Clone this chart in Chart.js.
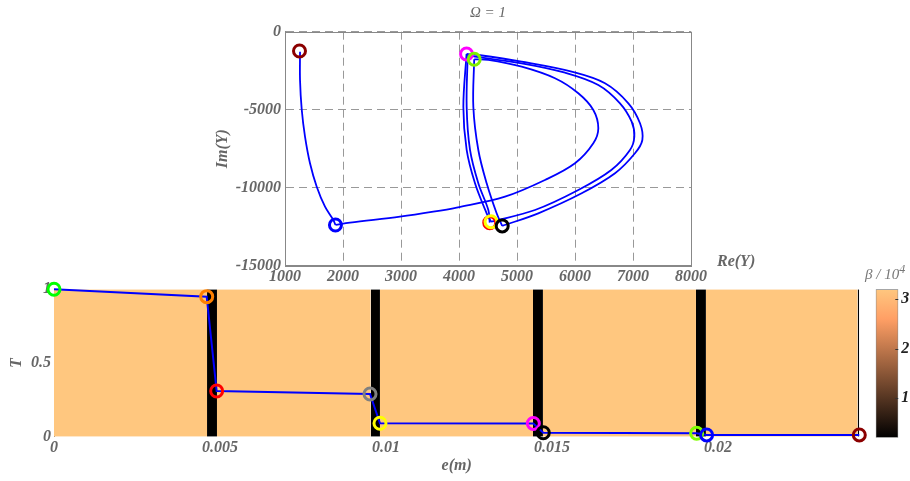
<!DOCTYPE html>
<html>
<head>
<meta charset="utf-8">
<script src="https://cdn.jsdelivr.net/npm/chart.js@4.4.1/dist/chart.umd.min.js"></script>
<style>
  body { margin: 0; background: #fff; width: 910px; height: 481px; position: relative; overflow: hidden; }
  canvas { position: absolute; }
  .lbl { position: absolute; font-family: 'Liberation Serif', 'Times New Roman', serif; font-style: italic; color: #666; white-space: nowrap; }
  .lbl sup { font-size: 12px; }
</style>
</head>
<body>
<canvas id="bottomChart" width="870" height="211" style="left:0;top:270px"></canvas>
<canvas id="cbChart" width="50" height="211" style="left:860px;top:270px"></canvas>
<canvas id="topChart" width="560" height="290" style="left:200px;top:0"></canvas>
<div class="lbl" style="left:717px;top:252px;font-size:16px;font-weight:bold">Re(Y)</div>
<div class="lbl" style="left:865px;top:262px;font-size:15px;color:#777">β / 10<sup>4</sup></div>
<script>
// --- top chart: trajectory in the complex plane (Re(Y), Im(Y)) ---
const reTicks = [1000, 2000, 3000, 4000, 5000, 6000, 7000, 8000];
const imTicks = [-15000, -10000, -5000, 0];

const leftCurve = [[1259,-1282],[1259,-3096],[1288,-4974],[1345,-6731],[1431,-8436],[1547,-9936],[1690,-11218],[1833,-12070],[1870,-12390]];
const innerLoop = [[1870,-12390],[2121,-12243],[2983,-11859],[3557,-11538],[3960,-11270],[4793,-10577],[5483,-9506],[6000,-8436],[6316,-7154],[6402,-6192],[6316,-5019],[6057,-3949],[5655,-2987],[5081,-2244],[4506,-1800],[4262,-1770]];
const descentC = [[4262,-1770],[4247,-4808],[4333,-7582],[4477,-9718],[4649,-11641],[4745,-12450]];
const outerA = [[4745,-12450],[5367,-11641],[6115,-10359],[6690,-9077],[7034,-7795],[7161,-6942],[7121,-5872],[6920,-4590],[6517,-3308],[5943,-2564],[5081,-1923],[4333,-1494],[4130,-1430]];
const descentA = [[4130,-1430],[4075,-4808],[4132,-7582],[4276,-9718],[4477,-11641],[4552,-12180]];
const outerB = [[4552,-12180],[5310,-11430],[6057,-10147],[6626,-8865],[6948,-7582],[7023,-6731],[6977,-5769],[6776,-4590],[6402,-3417],[5828,-2628],[5081,-2026],[4276,-1603],[4150,-1480]];
const descentB = [[4150,-1480],[4132,-4808],[4190,-7582],[4333,-9718],[4506,-11430],[4530,-12240]];

const topRingRe = [1250, 1870, 4130, 4262, 4530, 4552, 4745];
const topRingIm = [-1240, -12390, -1430, -1770, -12240, -12180, -12450];
const topRingColor = ['#8b0000', '#0000ff', '#ff00ff', '#80f000', '#ff0000', '#ffff00', '#000000'];

// --- bottom chart: layered structure and T(e) ---
const eTicks = [0, 0.005, 0.01, 0.015, 0.02];
const tTicks = [0, 0.5, 1];
const layerEdges = [0, 0.00461, 0.00491, 0.00954, 0.00982, 0.01443, 0.01473, 0.01934, 0.01964, 0.02421, 0.02426];
const layerBeta = [3.2, 0.2, 3.2, 0.2, 3.2, 0.2, 3.2, 0.2, 3.2, 0.2];

const eVals = [0, 0.0046, 0.0049, 0.00952, 0.00982, 0.01444, 0.01474, 0.01936, 0.01966, 0.02426];
const tVals = [1.0, 0.95, 0.31, 0.29, 0.091, 0.09, 0.027, 0.023, 0.012, 0.012];
const ringColor = ['#00ff00', '#ff8000', '#ff0000', '#808080', '#ffff00', '#ff00ff', '#000000', '#80ff00', '#0000ff', '#8b0000'];

// --- colour bar ---
const cbMin = 0.2, cbMax = 3.2;
const cbTicks = [1, 2, 3];

const serif = "'Liberation Serif', 'Times New Roman', serif";
const tickFont = { family: serif, size: 16, style: 'italic', weight: 'bold' };

function copper(beta) {
  const t = Math.max(0, Math.min(1, (beta - cbMin) / (cbMax - cbMin)));
  const r = Math.round(Math.min(1, 1.25 * t) * 255);
  const g = Math.round(0.7812 * t * 255);
  const b = Math.round(0.4975 * t * 255);
  return 'rgb(' + r + ',' + g + ',' + b + ')';
}

const toXY = arr => arr.map(p => ({ x: p[0], y: p[1] }));

const framePlugin = {
  id: 'frame',
  afterDraw(chart) {
    const a = chart.chartArea, ctx = chart.ctx;
    ctx.save();
    ctx.strokeStyle = '#888';
    ctx.lineWidth = 1;
    ctx.strokeRect(Math.round(a.left) + 0.5, Math.round(a.top) + 0.5, Math.round(a.right - a.left), Math.round(a.bottom - a.top));
    ctx.restore();
  }
};

// little tick marks on the inner right edge of the colour bar
const cbTickPlugin = {
  id: 'cbTicks',
  afterDatasetsDraw(chart) {
    const ctx = chart.ctx, a = chart.chartArea, y = chart.scales.y;
    ctx.save();
    ctx.strokeStyle = '#333';
    ctx.lineWidth = 1;
    cbTicks.forEach(v => {
      const py = Math.round(y.getPixelForValue(v)) + 0.5;
      ctx.beginPath();
      ctx.moveTo(a.right - 3, py);
      ctx.lineTo(a.right, py);
      ctx.stroke();
    });
    ctx.restore();
  }
};

const curveStyle = { showLine: true, borderColor: '#0000ff', borderWidth: 1.8, pointRadius: 0, tension: 0.35, order: 2 };

new Chart(document.getElementById('topChart'), {
  type: 'scatter',
  data: {
    datasets: [leftCurve, innerLoop, descentC, outerA, descentA, outerB, descentB]
      .map(seg => Object.assign({ data: toXY(seg) }, curveStyle))
      .concat([{
        data: topRingRe.map((x, i) => ({ x: x, y: topRingIm[i] })),
        pointRadius: 6,
        pointBorderWidth: 3,
        pointBackgroundColor: 'rgba(0,0,0,0)',
        pointBorderColor: topRingColor,
        clip: false,
        order: 1
      }])
  },
  options: {
    responsive: false,
    animation: false,
    layout: { padding: { left: 0, right: 69, top: 0, bottom: 0 } },
    plugins: {
      legend: { display: false },
      tooltip: { enabled: false },
      title: {
        display: true, text: 'Ω = 1', fullSize: false, color: '#666',
        font: { family: serif, size: 15, style: 'italic', weight: 'normal', lineHeight: 1.2 },
        padding: { top: 4, bottom: 9.7 }
      }
    },
    scales: {
      x: {
        type: 'linear', min: 1000, max: 8000,
        afterBuildTicks: s => { s.ticks = reTicks.map(v => ({ value: v })); },
        afterFit: s => { s.height = 24.3; },
        ticks: { font: tickFont, color: '#666', padding: 2, maxRotation: 0, autoSkip: false, callback: v => String(v) },
        grid: { color: '#999', drawTicks: false },
        border: { color: '#888', dash: [8, 5] }
      },
      y: {
        type: 'linear', min: -15000, max: 0,
        afterBuildTicks: s => { s.ticks = imTicks.map(v => ({ value: v })); },
        afterFit: s => { s.width = 85; },
        ticks: { font: tickFont, color: '#666', padding: 4, autoSkip: false, callback: v => String(v) },
        grid: { color: '#999', drawTicks: false },
        border: { color: '#888', dash: [8, 5] },
        title: { display: true, text: 'Im(Y)', color: '#666', font: tickFont, padding: { top: 13, bottom: 0 } }
      }
    }
  },
  plugins: [framePlugin]
});

const layerSets = layerBeta.map((b, i) => ({
  type: 'line',
  data: [{ x: layerEdges[i], y: 1 }, { x: layerEdges[i + 1], y: 1 }],
  fill: 'origin',
  backgroundColor: copper(b),
  borderWidth: 0,
  pointRadius: 0,
  order: 3
}));

new Chart(document.getElementById('bottomChart'), {
  type: 'scatter',
  data: {
    datasets: layerSets.concat([{
      type: 'line',
      data: eVals.map((x, i) => ({ x: x, y: tVals[i] })),
      borderColor: '#0000ff',
      borderWidth: 2,
      tension: 0,
      pointRadius: 6,
      pointBorderWidth: 3,
      pointBackgroundColor: 'rgba(0,0,0,0)',
      pointBorderColor: ringColor,
      clip: false,
      order: 1
    }])
  },
  options: {
    responsive: false,
    animation: false,
    layout: { padding: { left: 0, right: 10.7, top: 19.3, bottom: 0 } },
    plugins: { legend: { display: false }, tooltip: { enabled: false } },
    scales: {
      x: {
        type: 'linear', min: 0, max: 0.02426,
        afterBuildTicks: s => { s.ticks = eTicks.map(v => ({ value: v })); },
        afterFit: s => { s.height = 44.3; },
        ticks: { font: tickFont, color: '#666', padding: 2, maxRotation: 0, autoSkip: false, callback: v => String(v) },
        grid: { display: false, drawTicks: false },
        border: { display: false },
        title: { display: true, text: 'e(m)', color: '#666', font: tickFont, padding: { top: 0, bottom: 6 } }
      },
      y: {
        type: 'linear', min: 0, max: 1,
        afterBuildTicks: s => { s.ticks = tTicks.map(v => ({ value: v })); },
        afterFit: s => { s.width = 54; },
        ticks: { font: tickFont, color: '#666', padding: 3, autoSkip: false, callback: v => String(v) },
        grid: { display: false, drawTicks: false },
        border: { color: '#888' },
        title: { display: true, text: 'T', color: '#666', font: tickFont, padding: { top: 7, bottom: 0 } }
      }
    }
  }
});

new Chart(document.getElementById('cbChart'), {
  type: 'bar',
  data: {
    labels: [''],
    datasets: [{
      data: [[cbMin, cbMax]],
      backgroundColor: function (context) {
        const chart = context.chart;
        if (!chart.chartArea) return copper(cbMax);
        const y = chart.scales.y;
        const g = chart.ctx.createLinearGradient(0, y.getPixelForValue(cbMin), 0, y.getPixelForValue(cbMax));
        [0, 0.8, 1].forEach(t => g.addColorStop(t, copper(cbMin + t * (cbMax - cbMin))));
        return g;
      },
      borderColor: '#888',
      borderWidth: 1,
      borderSkipped: false,
      barPercentage: 1,
      categoryPercentage: 1
    }]
  },
  options: {
    responsive: false,
    animation: false,
    layout: { padding: { left: 15.7, right: 0, top: 19.3, bottom: 43.3 } },
    plugins: { legend: { display: false }, tooltip: { enabled: false } },
    scales: {
      x: { display: false },
      y: {
        position: 'right', min: cbMin, max: cbMax,
        afterBuildTicks: s => { s.ticks = cbTicks.map(v => ({ value: v })); },
        afterFit: s => { s.width = 11.7; },
        ticks: { font: tickFont, color: '#222', padding: 3, autoSkip: false, callback: v => String(v) },
        grid: { display: false, drawTicks: false },
        border: { display: false }
      }
    }
  },
  plugins: [cbTickPlugin]
});
</script>
</body>
</html>
